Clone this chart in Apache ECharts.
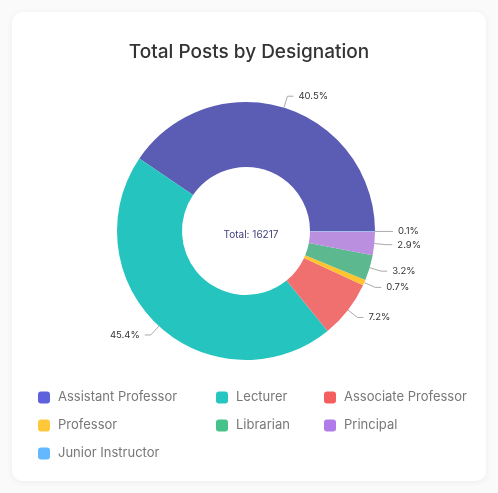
<!DOCTYPE html>
<html>
<head>
<meta charset="utf-8">
<script src="https://cdn.jsdelivr.net/npm/echarts@6/dist/echarts.min.js"></script>
<style>
html,body{margin:0;padding:0;background:#fafafa;}
#card{position:absolute;left:12px;top:12px;width:474px;height:469px;background:#fff;border-radius:10px;box-shadow:0 1px 6px rgba(0,0,0,0.06);}
#chart{position:absolute;left:0;top:0;width:498px;height:493px;}
</style>
</head>
<body>
<div id="card"></div>
<div id="chart"></div>
<script>
const categories = ["Assistant Professor","Lecturer","Associate Professor","Professor","Librarian","Principal","Junior Instructor"];
const values = [6568, 7362, 1168, 114, 519, 470, 16];
const sliceColors = ["#5B5DB5","#26C4BE","#F07070","#FFC42E","#5BB88F","#BA8FE0","#8AB0E8"];
const legendColors = ["#5E60DC","#26C6C0","#F55E5E","#FFC83A","#45C28A","#B07AEB","#63B8FF"];
const legendColumns = [[0,3,6],[1,4],[2,5]];
const legendLefts = [38, 216, 324];

const total = values.reduce((a,b)=>a+b,0);
const chart = echarts.init(document.getElementById('chart'));
const fontFam = 'Inter, "Noto Sans", sans-serif';

const legends = legendColumns.map((col, i) => ({
  orient: 'vertical',
  left: legendLefts[i],
  top: 391,
  padding: 0,
  itemWidth: 12,
  itemHeight: 12,
  itemGap: 15,
  icon: 'roundRect',
  selectedMode: false,
  textStyle: {color: '#777', fontSize: 13, fontFamily: fontFam, padding: [0,0,0,3]},
  data: col.map(k => ({name: categories[k], itemStyle: {color: legendColors[k]}}))
}));

chart.setOption({
  animation: false,
  title: [{
    text: 'Total Posts by Designation',
    left: 'center',
    top: 38,
    textStyle: {color: '#333', fontSize: 19, fontWeight: 500, fontFamily: fontFam}
  }, {
    text: 'Total: ' + total,
    left: 246,
    top: 225,
    textAlign: 'center',
    textStyle: {color: '#3d3f7a', fontSize: 10, fontWeight: 'normal', fontFamily: fontFam}
  }],
  legend: legends,
  series: [{
    type: 'pie',
    center: [246, 231],
    radius: [64, 129],
    startAngle: 0,
    clockwise: false,
    avoidLabelOverlap: true,
    label: {
      show: true,
      formatter: p => p.percent.toFixed(1) + '%',
      color: '#333',
      fontSize: 9.5,
      fontFamily: fontFam
    },
    labelLine: {show: true, length: 12, length2: 6, lineStyle: {color: '#aaa', width: 1}},
    data: categories.map((c, i) => ({name: c, value: values[i], itemStyle: {color: sliceColors[i]}}))
  }]
});
</script>
</body>
</html>
